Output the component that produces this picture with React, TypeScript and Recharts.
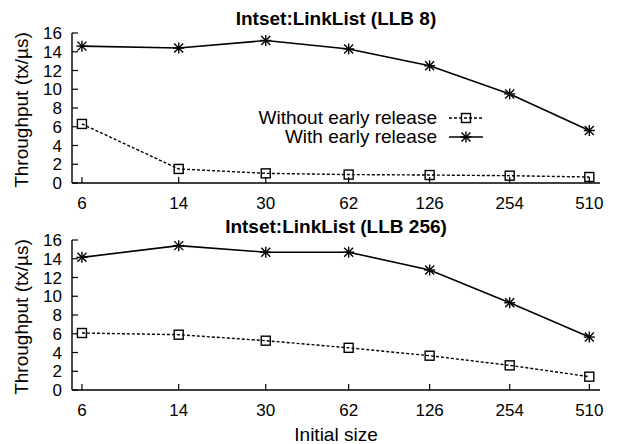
import React from 'react';
import { LineChart, Line, XAxis, YAxis, Legend } from 'recharts';

// initial list sizes (x axis, log scale)
const SIZES = [6, 14, 30, 62, 126, 254, 510];
const Y_TICKS = [0, 2, 4, 6, 8, 10, 12, 14, 16];
const SERIES_NAMES = ['Without early release', 'With early release'];

// throughput (tx/µs), LLB 8
const LLB8_WITHOUT = [6.3, 1.5, 1.03, 0.9, 0.85, 0.78, 0.64];
const LLB8_WITH = [14.6, 14.4, 15.2, 14.3, 12.5, 9.5, 5.6];

// throughput (tx/µs), LLB 256
const LLB256_WITHOUT = [6.08, 5.9, 5.26, 4.5, 3.66, 2.63, 1.42];
const LLB256_WITH = [14.15, 15.4, 14.7, 14.7, 12.8, 9.3, 5.65];

const FONT = '"Liberation Sans", Arial, Helvetica, sans-serif';
const INK = '#000';

const buildRows = (without: number[], withER: number[]) =>
  SIZES.map((size, i) => ({ size, without: without[i], withER: withER[i] }));

const drawSquare = (cx: number, cy: number, key?: React.Key) => (
  <rect key={key} x={cx - 4.5} y={cy - 4.5} width={9} height={9} fill="none" stroke={INK} strokeWidth={1.4} />
);

const drawStar = (cx: number, cy: number, key?: React.Key) => (
  <g key={key} stroke={INK} strokeWidth={1.4}>
    <line x1={cx - 5.5} y1={cy} x2={cx + 5.5} y2={cy} />
    <line x1={cx} y1={cy - 5.5} x2={cx} y2={cy + 5.5} />
    <line x1={cx - 4.5} y1={cy - 4.5} x2={cx + 4.5} y2={cy + 4.5} />
    <line x1={cx - 4.5} y1={cy + 4.5} x2={cx + 4.5} y2={cy - 4.5} />
  </g>
);

const SquareDot = (p: any) => (p.cx == null ? <g key={p.index} /> : drawSquare(p.cx, p.cy, p.index));
const StarDot = (p: any) => (p.cx == null ? <g key={p.index} /> : drawStar(p.cx, p.cy, p.index));

const renderLegend = (props: any) => {
  const items = [...(props.payload || [])].sort(
    (a: any, b: any) => SERIES_NAMES.indexOf(a.value) - SERIES_NAMES.indexOf(b.value)
  );
  return (
    <svg width={618} height={45} style={{ fontFamily: FONT }}>
      {items.map((item: any, i: number) => {
        const cy = 13 + i * 19;
        const dashed = item.dataKey === 'without';
        return (
          <g key={item.value}>
            <text x={437} y={cy + 6} textAnchor="end" fontSize={19} fill={INK}>
              {item.value}
            </text>
            <line x1={449} x2={483} y1={cy} y2={cy} stroke={INK} strokeWidth={1.4} strokeDasharray={dashed ? '3 2' : undefined} />
            {dashed ? drawSquare(466, cy) : drawStar(466, cy)}
          </g>
        );
      })}
    </svg>
  );
};

const yLabel = (props: any) => {
  const vb = props.viewBox || {};
  const x = 28;
  const y = (vb.y || 0) + (vb.height || 0) / 2 + 2;
  return (
    <text x={x} y={y} transform={`rotate(-90 ${x} ${y})`} textAnchor="middle" fontSize={19} fill={INK} fontFamily={FONT}>
      Throughput (tx/µs)
    </text>
  );
};

type PanelProps = {
  rows: { size: number; without: number; withER: number }[];
  height: number;
  marginTop: number;
  axisHeight: number;
  legend?: boolean;
};

const Panel: React.FC<PanelProps> = ({ rows, height, marginTop, axisHeight, legend }) => (
  <LineChart width={618} height={height} data={rows} margin={{ top: marginTop, right: 18, bottom: 0, left: 0 }}>
    <XAxis
      xAxisId="x"
      dataKey="size"
      type="number"
      scale="log"
      domain={[5.5, 560]}
      allowDataOverflow
      ticks={SIZES}
      interval={0}
      height={axisHeight}
      tickSize={-6}
      tickMargin={20}
      tickLine={{ stroke: INK, strokeWidth: 1.2 }}
      axisLine={{ stroke: INK, strokeWidth: 1.4 }}
      tick={{ fill: INK, fontSize: 17 }}
    />
    <XAxis xAxisId="top" orientation="top" height={0} tick={false} tickLine={false} axisLine={{ stroke: INK, strokeWidth: 1.4 }} />
    <YAxis
      yAxisId="y"
      type="number"
      domain={[0, 16]}
      ticks={Y_TICKS}
      interval={0}
      width={72}
      tickSize={-6}
      tickMargin={16}
      tickLine={{ stroke: INK, strokeWidth: 1.2 }}
      axisLine={{ stroke: INK, strokeWidth: 1.4 }}
      tick={{ fill: INK, fontSize: 17 }}
      label={yLabel}
    />
    <YAxis
      yAxisId="r"
      orientation="right"
      type="number"
      domain={[0, 16]}
      ticks={Y_TICKS}
      interval={0}
      width={0}
      tick={false}
      tickSize={-6}
      tickLine={{ stroke: INK, strokeWidth: 1.2 }}
      axisLine={{ stroke: INK, strokeWidth: 1.4 }}
    />
    {legend && (
      <Legend
        layout="vertical"
        align="center"
        verticalAlign="middle"
        content={renderLegend}
        wrapperStyle={{ position: 'absolute', top: 105, left: 0, width: 618, height: 45 }}
      />
    )}
    <Line
      xAxisId="x"
      yAxisId="y"
      dataKey="without"
      name={SERIES_NAMES[0]}
      stroke={INK}
      strokeWidth={1.4}
      strokeDasharray="3 2"
      dot={SquareDot}
      activeDot={false}
      isAnimationActive={false}
    />
    <Line
      xAxisId="x"
      yAxisId="y"
      dataKey="withER"
      name={SERIES_NAMES[1]}
      stroke={INK}
      strokeWidth={1.6}
      dot={StarDot}
      activeDot={false}
      isAnimationActive={false}
    />
  </LineChart>
);

const titleStyle: React.CSSProperties = {
  position: 'absolute',
  left: 72,
  width: 528,
  textAlign: 'center',
  fontSize: 19,
  lineHeight: '19px',
  fontWeight: 'bold',
  color: INK,
};

export default function App() {
  return (
    <div style={{ position: 'absolute', left: 0, top: 0, width: 618, height: 444, background: '#fff', fontFamily: FONT }}>
      <div style={{ position: 'absolute', left: 0, top: 0 }}>
        <Panel rows={buildRows(LLB8_WITHOUT, LLB8_WITH)} height={222} marginTop={33} axisHeight={39} legend />
      </div>
      <div style={{ position: 'absolute', left: 0, top: 210 }}>
        <Panel rows={buildRows(LLB256_WITHOUT, LLB256_WITH)} height={234} marginTop={30} axisHeight={54} />
      </div>
      <div style={{ ...titleStyle, top: 9 }}>Intset:LinkList (LLB 8)</div>
      <div style={{ ...titleStyle, top: 217 }}>Intset:LinkList (LLB 256)</div>
      <div style={{ ...titleStyle, top: 425, fontWeight: 'normal' }}>Initial size</div>
    </div>
  );
}
